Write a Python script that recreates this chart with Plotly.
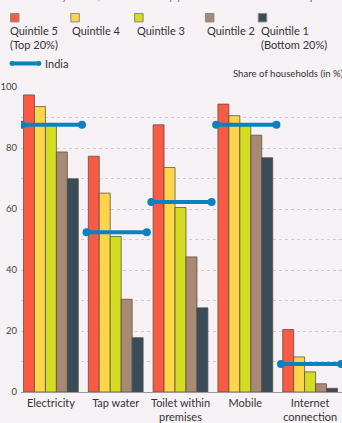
import plotly.graph_objects as go

categories = ["Electricity", "Tap water", "Toilet within<br>premises", "Mobile", "Internet<br>connection"]
series_names = ["Quintile 5 (Top 20%)", "Quintile 4", "Quintile 3", "Quintile 2", "Quintile 1 (Bottom 20%)"]
q5 = [97.4, 77.3, 87.6, 94.4, 20.5]
q4 = [93.6, 65.2, 73.6, 90.6, 11.5]
q3 = [87.5, 51.0, 60.5, 87.3, 6.6]
q2 = [78.7, 30.4, 44.3, 84.2, 2.7]
q1 = [69.9, 17.8, 27.6, 76.8, 1.2]
india = [87.6, 52.4, 62.3, 87.6, 9.2]
colors = ["#f95a44", "#fdd54a", "#d5dd22", "#a88a74", "#394c5a"]
ytick_vals = [0, 10, 20, 30, 40, 50, 60, 70, 80, 90, 100]
ytick_text = ["0", "", "20", "", "40", "", "60", "", "80", "", "100"]

W, H = 342, 423
L, R, T, B = 20, 0, 87, 29
PW, PH = W - L - R, H - T - B
FONT = "Lato"
BG = "#f6f1f5"

def px(x):
    return (x - L) / PW

def py(y):
    return (H - B - y) / PH

xs = list(range(len(categories)))
fig = go.Figure()
for name, vals, col in zip(series_names, [q5, q4, q3, q2, q1], colors):
    fig.add_trace(go.Bar(x=xs, y=vals, name=name, marker=dict(color=col, line=dict(color="rgba(90,75,65,0.75)", width=1)),
                         showlegend=False))

lx, ly = [], []
for i, v in enumerate(india):
    lx += [i - 0.45, i + 0.48, None]
    ly += [v, v, None]
fig.add_trace(go.Scatter(x=lx, y=ly, mode="lines+markers", line=dict(color="#0a82bf", width=4),
                         marker=dict(size=8, color="#0a82bf"), showlegend=False, cliponaxis=True))

fig.update_layout(
    width=W, height=H, margin=dict(l=L, r=R, t=T, b=B),
    paper_bgcolor=BG, plot_bgcolor=BG,
    barmode="group", bargap=0.154, bargroupgap=0,
    font=dict(family=FONT, size=11, color="#333333"),
    xaxis=dict(range=[-0.4615, 4.492], tickvals=xs, ticktext=categories, showgrid=False,
               zeroline=False, showline=False, ticks="", tickfont=dict(size=11, color="#333"), ticklabelstandoff=3),
    yaxis=dict(range=[0, 100], tickvals=ytick_vals, ticktext=ytick_text, showgrid=True,
               gridcolor="#cfcbcf", griddash="dot", gridwidth=1, zeroline=True, zerolinecolor="#999999",
               zerolinewidth=1, ticks="", tickfont=dict(size=9.5, color="#444"), ticklabelstandoff=3),
)

shapes = []
ann = []
# top cut-off subtitle (clipped by the top edge, as in the reference)
ann.append(dict(x=px(10), y=py(3.5), xref="paper", yref="paper", xanchor="left", yanchor="bottom",
                text="the richer you are, the more likely you are to have access to tap water.", showarrow=False,
                font=dict(size=11, color="#666")))
leg_sq = [9.5, 70, 134, 205, 258]
leg_tx = [7, 69.5, 134, 205, 259]
leg_labels = ["Quintile 5<br>(Top 20%)", "Quintile 4", "Quintile 3", "Quintile 2", "Quintile 1<br>(Bottom 20%)"]
for sx, tx, lab, col in zip(leg_sq, leg_tx, leg_labels, colors):
    shapes.append(dict(type="rect", xref="paper", yref="paper", x0=px(sx), x1=px(sx + 8.5), y0=py(21.5), y1=py(13),
                       fillcolor=col, line=dict(color="#8a8a8a", width=1)))
    ann.append(dict(x=px(tx), y=py(22), xref="paper", yref="paper", xanchor="left", yanchor="top", align="left",
                    text=lab, showarrow=False, font=dict(size=11, color="#333")))
shapes.append(dict(type="line", xref="paper", yref="paper", x0=px(11), x1=px(38), y0=py(63.3), y1=py(63.3),
                   line=dict(color="#0a82bf", width=4)))
for cx in (11, 38):
    shapes.append(dict(type="circle", xref="paper", yref="paper", x0=px(cx - 2.5), x1=px(cx + 2.5),
                       y0=py(65.8), y1=py(60.8), fillcolor="#0a82bf", line=dict(width=0)))
ann.append(dict(x=px(42.5), y=py(63), xref="paper", yref="paper", xanchor="left", yanchor="middle",
                text="India", showarrow=False, font=dict(size=11, color="#333")))
ann.append(dict(x=px(231), y=py(73), xref="paper", yref="paper", xanchor="left", yanchor="middle",
                text="Share of households (in %)", showarrow=False, font=dict(size=9.6, color="#333")))
fig.update_layout(shapes=shapes, annotations=ann)
fig.write_html("out.html")
